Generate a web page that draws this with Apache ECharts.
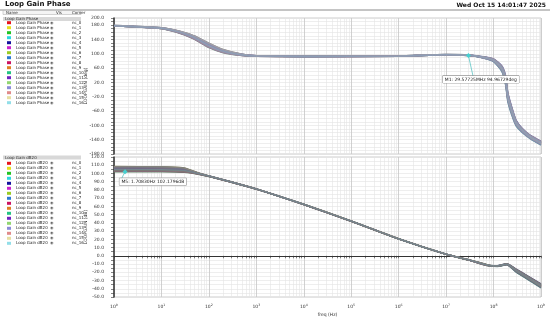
<!DOCTYPE html>
<html>
<head>
<meta charset="utf-8">
<script src="https://cdn.jsdelivr.net/npm/echarts@6/dist/echarts.min.js"></script>
<style>
html, body { margin: 0; padding: 0; background: #fff; }
#chart { width: 550px; height: 318px; }
</style>
</head>
<body>
<div id="chart"></div>
<script>
const corners = ['nc_0', 'nc_1', 'nc_2', 'nc_3', 'nc_4', 'nc_5', 'nc_6', 'nc_7', 'nc_8',
    'nc_9', 'nc_10', 'nc_11', 'nc_12', 'nc_13', 'nc_14', 'nc_15', 'nc_16'];
const cornerColors = ['#e8141c', '#e6de1e', '#22c422', '#2ad6e0', '#12129e', '#cc22cc', '#98cc22', '#2a78d0',
    '#cc1262', '#e08022', '#22c482', '#7022c0', '#90d670', '#8a8ad8', '#e08a8a', '#e6dea0', '#92dee8'];

// phase in deg, sampled at phaseFreq (Hz)
const phaseFreq = [1, 10, 20, 30, 50, 100, 200, 500, 1e3, 1e4, 1e6, 1e7, 3e7, 6e7, 1e8, 1.5e8, 1.8e8, 2e8, 2.5e8, 3e8, 4e8, 6e8, 1e9];
const phaseNc0 = [178.5, 171.5, 163.5, 156.5, 145, 123.5, 107.5, 97, 94, 92.5, 93.5, 97.5, 96, 90, 82, 58, 25, -21, -66, -94, -114, -133, -149.5];
const phaseNc1 = [179, 173, 166, 160, 150, 130, 112, 99, 95, 93, 94, 98, 97, 89.2, 80.4, 54.8, 19.8, -26.2, -70.4, -97.2, -116.4, -135, -151.7];
const phaseNc2 = [178, 170, 161, 153, 140, 117, 103, 95, 93, 92, 93, 97, 95, 90.8, 83.6, 61.2, 30.2, -15.8, -61.6, -90.8, -111.6, -131, -147.3];
const phaseNc3 = [178.6, 171.8, 164, 157.2, 146, 124.8, 108.4, 97.4, 94.2, 92.6, 93.6, 97.6, 96.2, 88, 78, 50, 12, -34, -77, -102, -120, -138, -155];
const phaseNc4 = [178.3, 170.9, 162.5, 155.1, 143, 120.9, 105.7, 96.2, 93.6, 92.3, 93.3, 97.3, 95.6, 92, 86, 66, 38, -8, -55, -86, -108, -128, -144];
const phaseNc5 = [178.8, 172.4, 165, 158.6, 148, 127.4, 110.2, 98.2, 94.6, 92.8, 93.8, 97.8, 96.6, 90.4, 82.8, 59.6, 27.6, -18.4, -63.8, -92.4, -112.8, -132, -148.4];
const phaseNc6 = [178.2, 170.6, 162, 154.4, 142, 119.6, 104.8, 95.8, 93.4, 92.2, 93.2, 97.2, 95.4, 89.6, 81.2, 56.4, 22.4, -23.6, -68.2, -95.6, -115.2, -134, -150.6];
const phaseNc7 = [178.9, 172.7, 165.5, 159.3, 149, 128.7, 111.1, 98.6, 94.8, 92.9, 93.9, 97.9, 96.8, 91.6, 85.2, 64.4, 35.4, -10.6, -57.2, -87.6, -109.2, -129, -145.1];
const phaseNc8 = [178.1, 170.3, 161.5, 153.7, 141, 118.3, 103.9, 95.4, 93.2, 92.1, 93.1, 97.1, 95.2, 88.8, 79.6, 53.2, 17.2, -28.8, -72.6, -98.8, -117.6, -136, -152.8];
const phaseNc9 = [178.7, 172.1, 164.5, 157.9, 147, 126.1, 109.3, 97.8, 94.4, 92.7, 93.7, 97.7, 96.4, 91.2, 84.4, 62.8, 32.8, -13.2, -59.4, -89.2, -110.4, -130, -146.2];
const phaseNc10 = [178.4, 171.2, 163, 155.8, 144, 122.2, 106.6, 96.6, 93.8, 92.4, 93.4, 97.4, 95.8, 88.4, 78.8, 51.6, 14.6, -31.4, -74.8, -100.4, -118.8, -137, -153.9];
const phaseNc11 = [178.6, 171.7, 163.8, 156.9, 145.5, 124.2, 108, 97.2, 94.1, 92.6, 93.6, 97.6, 96.1, 90.2, 82.4, 58.8, 26.3, -19.7, -64.9, -93.2, -113.4, -132.5, -149];
const phaseNc12 = [178.4, 171.1, 162.8, 155.5, 143.5, 121.6, 106.2, 96.4, 93.7, 92.4, 93.4, 97.4, 95.7, 91, 84, 62, 31.5, -14.5, -60.5, -90, -111, -130.5, -146.8];
const phaseNc13 = [178.8, 172.3, 164.8, 158.3, 147.5, 126.8, 109.8, 98, 94.5, 92.8, 93.8, 97.8, 96.5, 89, 80, 54, 18.5, -27.5, -71.5, -98, -117, -135.5, -152.3];
const phaseNc14 = [178.2, 170.5, 161.8, 154.1, 141.5, 119, 104.4, 95.6, 93.3, 92.2, 93.2, 97.2, 95.3, 91.4, 84.8, 63.6, 34.1, -11.9, -58.3, -88.4, -109.8, -129.5, -145.7];
const phaseNc15 = [179, 172.9, 165.8, 159.7, 149.5, 129.4, 111.6, 98.8, 94.9, 93, 94, 98, 96.9, 89.8, 81.6, 57.2, 23.7, -22.3, -67.1, -94.8, -114.6, -133.5, -150];
const phaseNc16 = [178.5, 171.4, 163.3, 156.2, 144.5, 122.9, 107, 96.8, 93.9, 92.5, 93.5, 97.5, 95.9, 90.6, 83.2, 60.4, 28.9, -17.1, -62.7, -91.6, -112.2, -131.5, -147.9];

// gain in dB, sampled at gainFreq (Hz)
const gainFreq = [1, 10, 30, 60, 100, 300, 1e3, 1e4, 1e5, 1e6, 1e7, 3e7, 8e7, 1.2e8, 1.9e8, 3e8, 5e8, 1e9];
const gainNc0 = [105.3, 105.1, 104.0, 99.9, 96.7, 89.5, 81.2, 62.4, 42.1, 20.6, 1.9, -5.0, -11.7, -12.4, -10.2, -18, -25.8, -36.5];
const gainNc1 = [108.5, 108.3, 106.8, 100.8, 97.2, 90, 81.5, 62.8, 42.4, 20.9, 2.2, -4.6, -11.2, -12.6, -10.5, -18.8, -26.7, -37.5];
const gainNc2 = [102, 101.8, 101.2, 99, 96.2, 89, 80.8, 62, 41.8, 20.3, 1.6, -5.4, -12.2, -12.2, -9.9, -17.2, -24.9, -35.5];
const gainNc3 = [105.9, 105.7, 104.6, 100.1, 96.8, 89.6, 81.2, 62.5, 42.2, 20.7, 2.0, -4.9, -11.6, -13, -11, -20, -28, -39];
const gainNc4 = [104.0, 103.8, 102.9, 99.5, 96.5, 89.3, 81.0, 62.2, 42.0, 20.5, 1.8, -5.2, -11.9, -11.8, -9.4, -16, -23.5, -34];
const gainNc5 = [107.2, 107.0, 105.7, 100.4, 97.0, 89.8, 81.4, 62.6, 42.3, 20.8, 2.1, -4.8, -11.4, -12.3, -10.0, -17.6, -25.3, -36];
const gainNc6 = [103.3, 103.1, 102.3, 99.4, 96.4, 89.2, 80.9, 62.2, 41.9, 20.4, 1.7, -5.2, -12.0, -12.5, -10.4, -18.4, -26.2, -37];
const gainNc7 = [107.9, 107.7, 106.2, 100.6, 97.1, 89.9, 81.4, 62.7, 42.3, 20.8, 2.1, -4.7, -11.3, -11.9, -9.6, -16.4, -24.0, -34.5];
const gainNc8 = [102.7, 102.5, 101.8, 99.2, 96.3, 89.1, 80.9, 62.1, 41.9, 20.4, 1.7, -5.3, -12.1, -12.8, -10.7, -19.2, -27.1, -38];
const gainNc9 = [106.6, 106.4, 105.1, 100.3, 96.9, 89.7, 81.3, 62.6, 42.2, 20.7, 2.0, -4.8, -11.5, -12.0, -9.7, -16.8, -24.4, -35];
const gainNc10 = [104.6, 104.4, 103.4, 99.7, 96.6, 89.4, 81.1, 62.3, 42.0, 20.5, 1.8, -5.1, -11.8, -12.9, -10.8, -19.6, -27.6, -38.5];
const gainNc11 = [105.6, 105.4, 104.3, 100.0, 96.8, 89.6, 81.2, 62.4, 42.1, 20.6, 1.9, -5.0, -11.7, -12.3, -10.1, -17.8, -25.5, -36.3];
const gainNc12 = [104.3, 104.1, 103.2, 99.6, 96.6, 89.4, 81.0, 62.3, 42.0, 20.5, 1.8, -5.1, -11.9, -12.1, -9.8, -17, -24.6, -35.3];
const gainNc13 = [106.9, 106.7, 105.4, 100.4, 97.0, 89.8, 81.3, 62.6, 42.3, 20.8, 2.1, -4.8, -11.5, -12.7, -10.6, -19, -26.9, -37.8];
const gainNc14 = [103.0, 102.8, 102.0, 99.3, 96.4, 89.2, 80.9, 62.1, 41.9, 20.4, 1.7, -5.3, -12.1, -12.0, -9.6, -16.6, -24.2, -34.8];
const gainNc15 = [108.2, 108.0, 106.5, 100.7, 97.2, 90.0, 81.5, 62.8, 42.4, 20.9, 2.2, -4.6, -11.3, -12.5, -10.3, -18.2, -26.0, -36.8];
const gainNc16 = [104.9, 104.7, 103.7, 99.8, 96.7, 89.5, 81.1, 62.4, 42.1, 20.6, 1.9, -5.0, -11.8, -12.2, -10.0, -17.4, -25.1, -35.8];

const phaseSets = [phaseNc0, phaseNc1, phaseNc2, phaseNc3, phaseNc4, phaseNc5, phaseNc6, phaseNc7, phaseNc8,
    phaseNc9, phaseNc10, phaseNc11, phaseNc12, phaseNc13, phaseNc14, phaseNc15, phaseNc16];
const gainSets = [gainNc0, gainNc1, gainNc2, gainNc3, gainNc4, gainNc5, gainNc6, gainNc7, gainNc8,
    gainNc9, gainNc10, gainNc11, gainNc12, gainNc13, gainNc14, gainNc15, gainNc16];

// markers
const m1 = {freq: 29577250, value: 94.96729, text: 'M1: 29.57725MHz 94.96729deg'};
const m5 = {freq: 1.7083, value: 102.1796, text: 'M5: 1.70830Hz 102.1796dB'};

// axis ticks
const decades = [1, 10, 100, 1e3, 1e4, 1e5, 1e6, 1e7, 1e8, 1e9];
const minorSteps = [1, 2, 3, 4, 5, 6, 7, 8, 9];
const logTicks = [];
decades.slice(0, -1).forEach(d => minorSteps.forEach(s => logTicks.push(d * s)));
logTicks.push(1e9);

const FONT = 'DejaVu Sans';
const phaseTitle = 'Loop Gain Phase';
const gainTitle = 'Loop Gain dB20';

// the plotted traces overlap so much they read as a grey band; tone each colour down
function toned(hex, base, k) {
    const a = parseInt(hex.slice(1), 16), b = parseInt(base.slice(1), 16);
    const ch = s => Math.round(((a >> s) & 255) * k + ((b >> s) & 255) * (1 - k));
    return 'rgb(' + ch(16) + ',' + ch(8) + ',' + ch(0) + ')';
}

function lineSeries(title, freq, values, i, axis) {
    return {
        name: title + ' ' + corners[i],
        type: 'line',
        xAxisIndex: axis,
        yAxisIndex: axis,
        data: freq.map((f, k) => [f, values[k]]),
        showSymbol: false,
        smooth: 0.2,
        silent: true,
        itemStyle: {color: cornerColors[i]},
        lineStyle: {
            width: axis === 0 ? 1.4 : 1.2,
            color: toned(cornerColors[i], axis === 0 ? '#8c8ca8' : '#6c6c74', 0.22)
        }
    };
}

const series = [];
phaseSets.forEach((v, i) => series.push(lineSeries(phaseTitle, phaseFreq, v, i, 0)));
gainSets.forEach((v, i) => series.push(lineSeries(gainTitle, gainFreq, v, i, 1)));

const markLabel = {
    show: true, fontFamily: FONT, fontSize: 4.5, color: '#222',
    backgroundColor: '#fff', borderColor: '#888', borderWidth: 0.5, padding: [1, 2]
};

// M1 on the phase panel
series[2].markPoint = {
    silent: true, animation: false,
    data: [
        {coord: [m1.freq, m1.value], symbol: 'diamond', symbolSize: 5, itemStyle: {color: '#46d0d0'}, label: {show: false}},
        {coord: [5.4e7, 28.5], symbol: 'rect', symbolSize: 0, label: Object.assign({}, markLabel, {position: 'inside', formatter: m1.text})}
    ]
};
series[2].markLine = {
    silent: true, animation: false, symbol: 'none',
    lineStyle: {color: '#5cc4c4', width: 0.8, type: 'solid'},
    label: {show: false},
    data: [[{coord: [m1.freq, m1.value]}, {coord: [3.7e7, 37]}]]
};
// M5 on the gain panel
series[17 + 2].markPoint = {
    silent: true, animation: false,
    data: [
        {coord: [m5.freq, m5.value], symbol: 'diamond', symbolSize: 5, itemStyle: {color: '#46d0d0'}, label: {show: false}},
        {coord: [1.3, 90], symbol: 'rect', symbolSize: 0, label: Object.assign({}, markLabel, {position: 'right', distance: 0, formatter: m5.text})}
    ]
};
series[17 + 2].markLine = {
    silent: true, animation: false, symbol: 'none',
    lineStyle: {color: '#5cc4c4', width: 0.8, type: 'solid'},
    label: {show: false},
    data: [[{coord: [m5.freq, m5.value]}, {coord: [1.44, 93.5]}]]
};

function legendFor(title, top) {
    return {
        data: corners.map(c => title + ' ' + c),
        orient: 'vertical',
        left: 7,
        top: top,
        padding: 0,
        itemWidth: 4,
        itemHeight: 3,
        itemGap: 1,
        icon: 'rect',
        selectedMode: false,
        formatter: name => '{n|' + title + '}{v|◉}{c|' + name.split(' ').pop() + '}',
        textStyle: {
            fontFamily: FONT, fontSize: 4, lineHeight: 4, color: '#222',
            rich: {
                n: {width: 34, fontSize: 4, lineHeight: 4, fontFamily: FONT},
                v: {width: 22, fontSize: 4, lineHeight: 4, color: '#666', fontFamily: FONT},
                c: {fontSize: 4, lineHeight: 4, fontFamily: FONT}
            }
        }
    };
}

function xMain(grid, showLabels) {
    return {
        type: 'log', logBase: 10, min: 1, max: 1e9, gridIndex: grid, position: 'bottom',
        name: showLabels ? 'freq (Hz)' : '',
        nameLocation: 'middle', nameGap: 15, nameMoveOverlap: false,
        nameTextStyle: {fontFamily: FONT, fontSize: 4.5, color: '#333'},
        axisLine: {show: showLabels, lineStyle: {color: '#333', width: 1.2}},
        axisTick: {show: showLabels, customValues: logTicks, length: 2.5, lineStyle: {color: '#333', width: 0.6}},
        axisLabel: {
            show: showLabels, customValues: decades, margin: 7,
            fontFamily: FONT, fontSize: 4.5, color: '#333',
            formatter: v => '10{e|' + Math.round(Math.log10(v)) + '}',
            rich: {e: {fontFamily: FONT, fontSize: 3.2, padding: [0, 0, 3, 0], color: '#333'}}
        },
        splitLine: {show: true, lineStyle: {color: '#e4e4e4', width: 0.6}}
    };
}

function xDecade(grid) {
    return {
        type: 'log', logBase: 10, min: 1, max: 1e9, gridIndex: grid, position: 'top',
        axisLine: {show: false},
        axisTick: {show: false, customValues: decades},
        axisLabel: {show: false},
        splitLine: {show: true, lineStyle: {color: '#bcbcbc', width: 0.6}}
    };
}

function yAxis(grid, name, min, max, interval, labelStep) {
    return {
        type: 'value', gridIndex: grid, min: min, max: max, interval: interval,
        name: name, nameLocation: 'middle', nameGap: 26, nameMoveOverlap: false,
        nameTextStyle: {fontFamily: FONT, fontSize: 4.5, color: '#333'},
        axisLine: {show: true, lineStyle: {color: '#333', width: 1.5}},
        axisTick: {show: true, length: 3, lineStyle: {color: '#333', width: 0.6}},
        axisLabel: {
            fontFamily: FONT, fontSize: 4.5, color: '#333', margin: 10,
            formatter: v => ((v - min) % labelStep === 0 || v === max) ? v.toFixed(1) : ''
        },
        splitLine: {show: true, lineStyle: {color: '#e2e2e2', width: 0.6}}
    };
}

const chart = echarts.init(document.getElementById('chart'), null, {renderer: 'canvas'});
chart.setOption({
    animation: false,
    backgroundColor: '#fff',
    textStyle: {fontFamily: FONT},
    grid: [
        {left: 114, right: 9, top: 18, height: 136, show: true, borderColor: '#999', borderWidth: 0.5},
        {left: 114, right: 9, top: 157, height: 140, show: true, borderColor: '#999', borderWidth: 0.5}
    ],
    xAxis: [xMain(0, false), xMain(1, true), xDecade(0), xDecade(1)],
    yAxis: [
        yAxis(0, 'LOOPGAIN (deg)', -180, 200, 10, 40),
        yAxis(1, 'LOOPGAIN (dB)', -50, 120, 5, 10)
    ],
    legend: [legendFor(phaseTitle, 20.7), legendFor(gainTitle, 161.3)],
    graphic: [
        {type: 'text', left: 5, top: 1, style: {text: 'Loop Gain Phase', font: 'bold 7px "DejaVu Sans"', fill: '#111'}},
        {type: 'text', right: 4, top: 2, style: {text: 'Wed Oct 15 14:01:47 2025', font: 'bold 6px "DejaVu Sans"', fill: '#111'}},
        {type: 'line', shape: {x1: 0, y1: 10, x2: 550, y2: 10}, style: {stroke: '#8a8a8a', lineWidth: 1}},
        {type: 'rect', shape: {x: 3, y: 10.5, width: 78, height: 4}, style: {fill: '#f4f4f4', stroke: '#aaa', lineWidth: 0.5}},
        {type: 'text', left: 6, top: 10.6, style: {text: 'Name', font: '4px "DejaVu Sans"', fill: '#333'}},
        {type: 'text', left: 56, top: 10.6, style: {text: 'Vis', font: '4px "DejaVu Sans"', fill: '#333'}},
        {type: 'text', left: 72, top: 10.6, style: {text: 'Corner', font: '4px "DejaVu Sans"', fill: '#333'}},
        {type: 'rect', shape: {x: 3, y: 17, width: 78, height: 4}, style: {fill: '#d8d8d8'}},
        {type: 'text', left: 5, top: 17.2, style: {text: phaseTitle, font: '4px "DejaVu Sans"', fill: '#333'}},
        {type: 'rect', shape: {x: 3, y: 155.5, width: 78, height: 4}, style: {fill: '#d8d8d8'}},
        {type: 'text', left: 5, top: 155.7, style: {text: gainTitle, font: '4px "DejaVu Sans"', fill: '#333'}}
    ],
    series: series
});
</script>
</body>
</html>
